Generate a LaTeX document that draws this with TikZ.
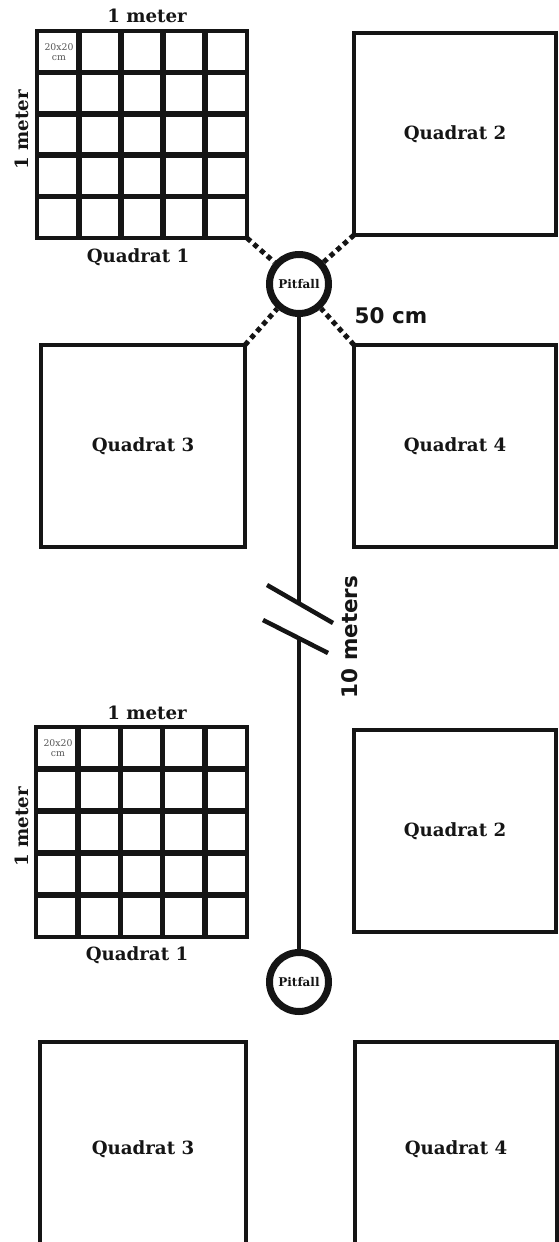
\documentclass[tikz,border=0pt]{standalone}
\usepackage{fontspec}
\setmainfont{DejaVu Serif}
\newfontfamily\labsans{DejaVu Sans}
\definecolor{ink}{HTML}{151515}
\definecolor{smallgray}{HTML}{555555}
\begin{document}
\begin{tikzpicture}[x=1pt,y=-1pt,
  quad/.style={draw=ink, line width=4.5pt, inner sep=0pt, outer sep=0pt, font=\bfseries\fontsize{18.2}{20}\selectfont, text=ink},
  gridbox/.style={draw=ink, line width=4.5pt, inner sep=0pt, outer sep=0pt},
  lab/.style={font=\bfseries\fontsize{18.2}{20}\selectfont, text=ink, inner sep=0pt},
  sanslab/.style={font=\labsans\bfseries\fontsize{21.5}{24}\selectfont, text=ink, inner sep=0pt},
  cell/.style={font=\fontsize{9.3}{10}\selectfont, text=smallgray, align=center, inner sep=0pt},
  pit/.style={circle, draw=ink, line width=7pt, fill=white, minimum size=59pt, inner sep=0pt, font=\bfseries\fontsize{12}{13}\selectfont, text=ink},
  dotline/.style={draw=ink, line width=5pt, dash pattern=on 5pt off 4pt},
  stem/.style={draw=ink, line width=4.5pt},
  gridline/.style={draw=ink, line width=5.5pt},
]
\useasboundingbox[fill=white] (0,0) rectangle (559,1242);

% ---------- top group ----------
\node[gridbox, minimum width=210pt, minimum height=207pt] (g1) at (142,134.5) {};
\foreach \i in {1,...,4} {
  \draw[gridline] ({37+42*\i},31) -- ({37+42*\i},238);
  \draw[gridline] (37,{31+41.4*\i}) -- (247,{31+41.4*\i});
}
\node[cell] (c1) at (59,52) {20x20\\cm};
\node[lab] (m1t) at (147,16) {1 meter};
\node[lab, rotate=90] (m1l) at (22,130) {1 meter};
\node[lab] (q1a) at (138,257) {Quadrat 1};

\node[quad, minimum width=202pt, minimum height=202pt] (q2a) at (455,134) {Quadrat 2};
\node[quad, minimum width=204pt, minimum height=202pt] (q3a) at (143,446) {Quadrat 3};
\node[quad, minimum width=202pt, minimum height=202pt] (q4a) at (455,446) {Quadrat 4};

\node[pit] (pit1) at (299,284) {Pitfall};

\draw[dotline] (g1.south east) -- (pit1);
\draw[dotline] (q2a.south west) -- (pit1);
\draw[dotline] (q3a.north east) -- (pit1);
\draw[dotline] (q4a.north west) -- (pit1);

\node[sanslab] (d50) at (391,316) {50 cm};

% ---------- line with break ----------
\coordinate (b1) at (299,603);
\coordinate (b2) at (299,637);
\coordinate (s1a) at (267,585);
\coordinate (s1b) at (333,623);
\coordinate (s2a) at (263,620);
\coordinate (s2b) at (328,653);
\draw[stem] (pit1) -- (b1);
\draw[stem] (s1a) -- (s1b);
\draw[stem] (s2a) -- (s2b);
\node[sanslab, rotate=90] (d10) at (350,637) {10 meters};

% ---------- bottom group ----------
\node[gridbox, minimum width=211pt, minimum height=210pt] (g2) at (141.5,832) {};
\foreach \i in {1,...,4} {
  \draw[gridline] ({36+42.2*\i},727) -- ({36+42.2*\i},937);
  \draw[gridline] (36,{727+42*\i}) -- (247,{727+42*\i});
}
\node[cell] (c2) at (58,748) {20x20\\cm};
\node[lab] (m2t) at (147,713) {1 meter};
\node[lab, rotate=90] (m2l) at (22,827) {1 meter};
\node[lab] (q1b) at (137,955) {Quadrat 1};

\node[quad, minimum width=202pt, minimum height=202pt] (q2b) at (455,831) {Quadrat 2};

\node[pit] (pit2) at (299,982) {Pitfall};
\draw[stem] (b2) -- (pit2);

\node[quad, minimum width=206pt, minimum height=214pt] (q3b) at (143,1149) {Quadrat 3};
\node[quad, minimum width=202pt, minimum height=214pt] (q4b) at (456,1149) {Quadrat 4};
\end{tikzpicture}
\end{document}
